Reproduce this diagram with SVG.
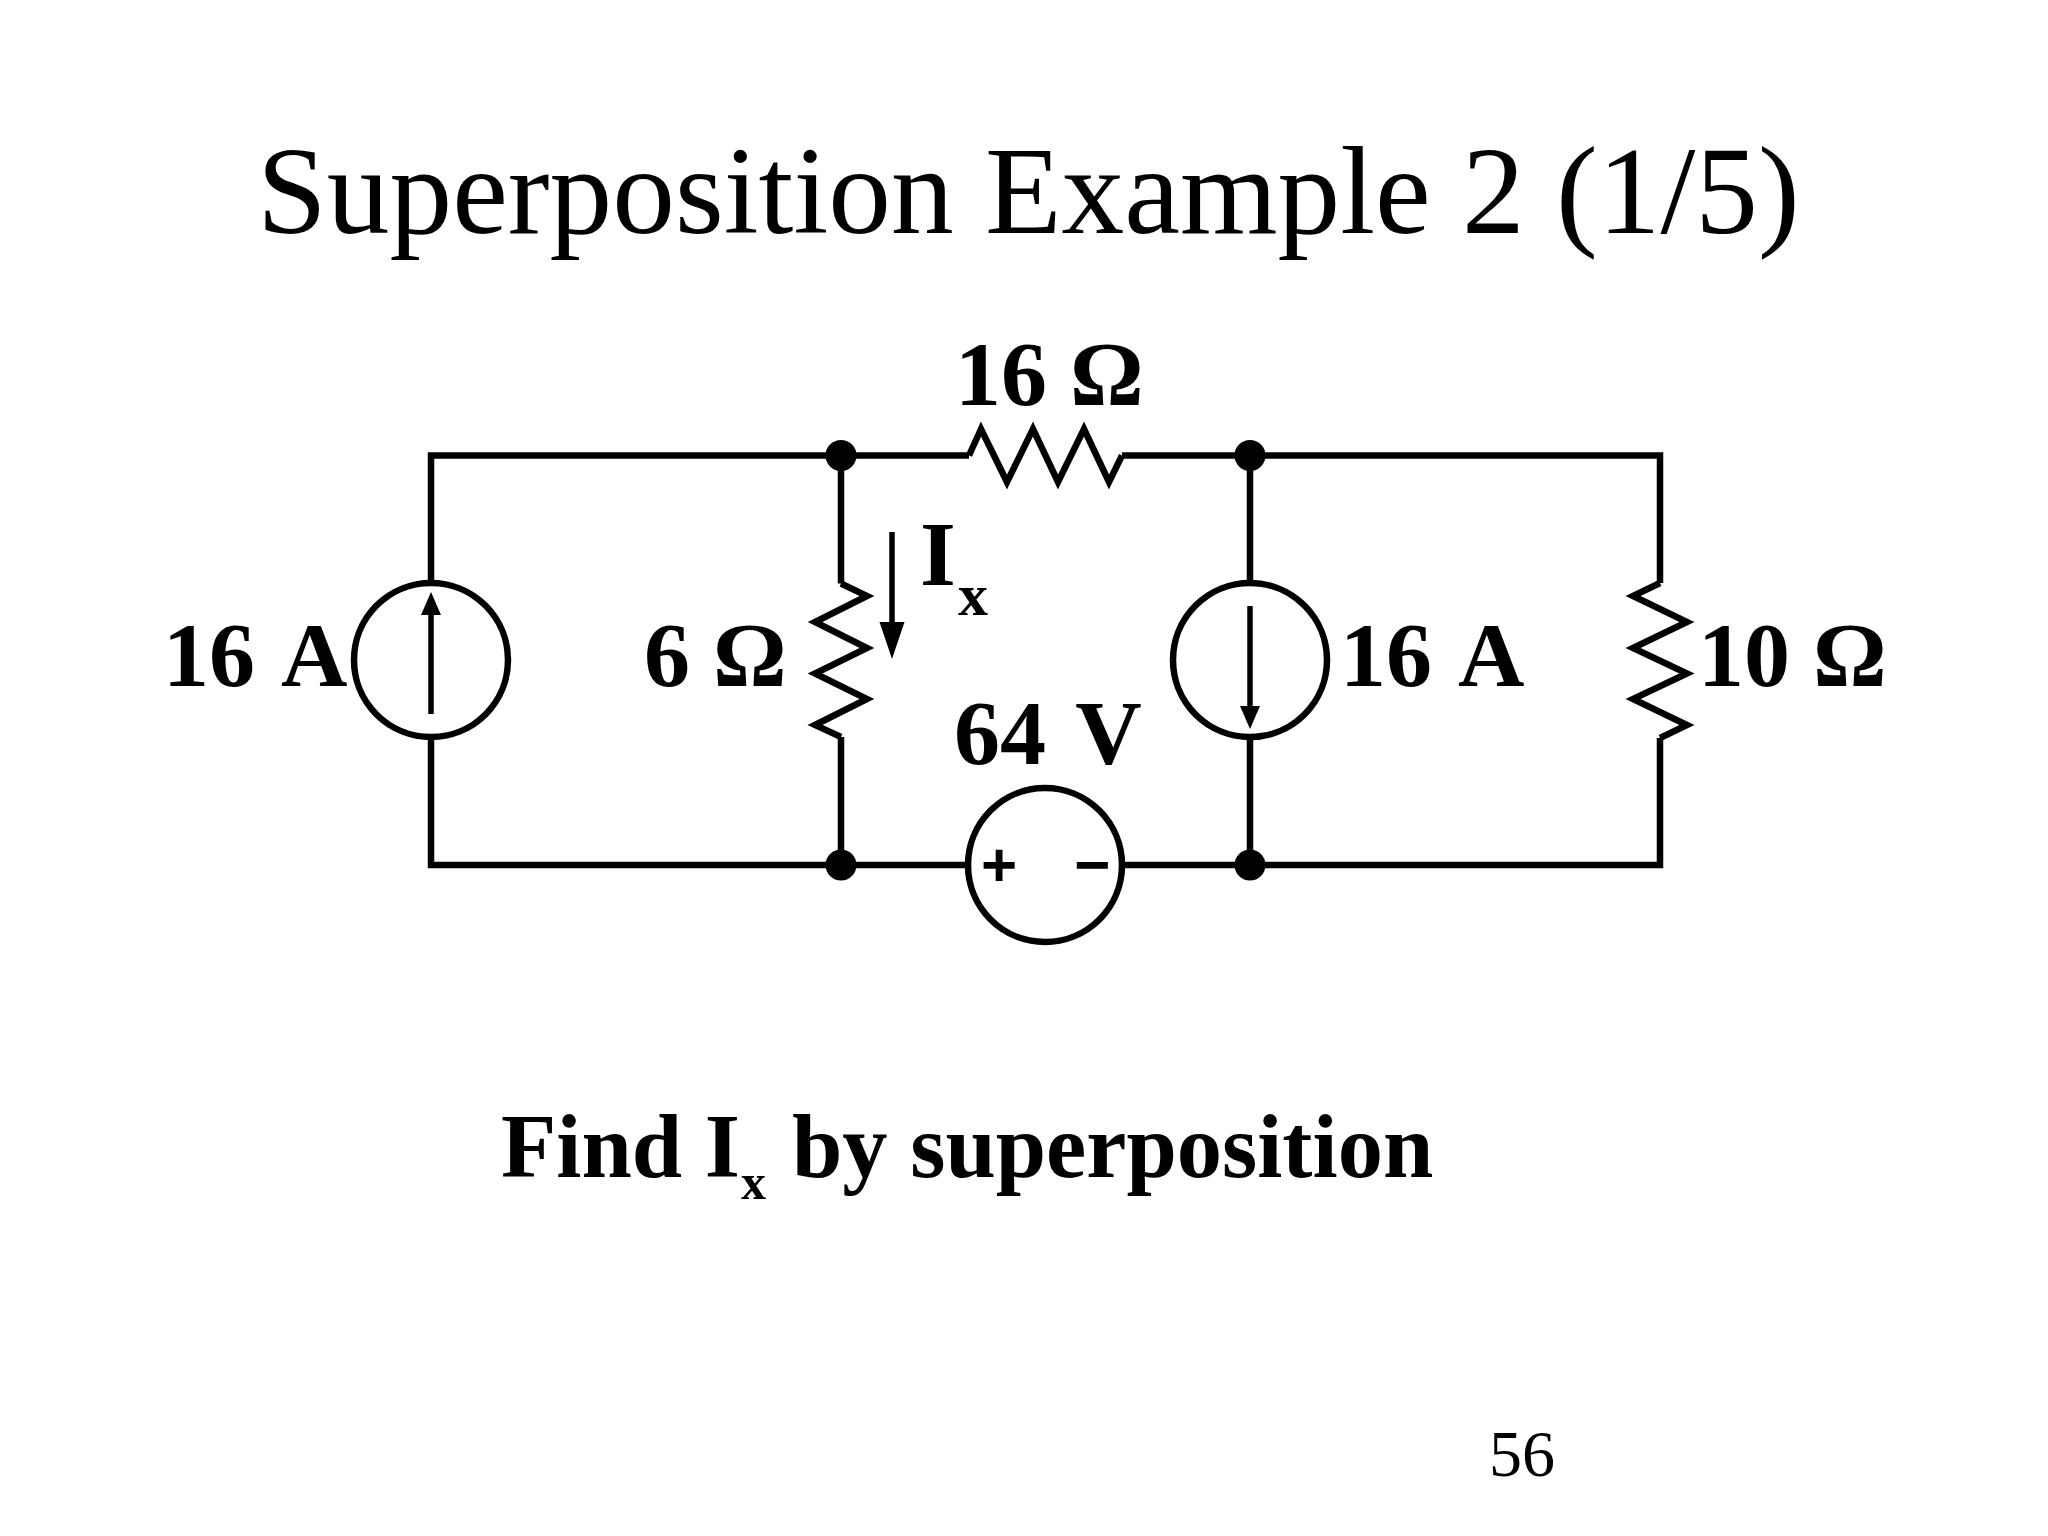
<svg xmlns="http://www.w3.org/2000/svg" width="2048" height="1536" viewBox="0 0 2048 1536">
<style>
text{font-family:"Liberation Serif","Times New Roman",serif;fill:#000}
.t{font-size:125.4px}
.l{font-size:92px;font-weight:bold}
.ws{word-spacing:8px}
.s{font-size:60px;font-weight:bold}
.s2{font-size:50px;font-weight:bold}
.f{font-size:90.500px;font-weight:bold}
.n{font-size:66px}
.sym{font-family:"Liberation Sans",Arial,sans-serif;font-size:62px;font-weight:bold}
.w{fill:none;stroke:#000;stroke-width:6.500;stroke-linejoin:miter}
.c{fill:#fff;stroke:#000;stroke-width:6.500}
.a{fill:none;stroke:#000;stroke-width:5.500}
.h{fill:#000;stroke:none}
.d{fill:#000}
</style>
<rect width="2048" height="1536" fill="#fff"/>
<text id="title" class="t" x="257" y="233">Superposition Example 2 (1/5)</text>
<g id="connectors">
<path class="w" d="M431 582V455.500H841M841 455.500H969M1122 455.500H1660V583M1660 738V865H431V738M841 455.500V583.500M841 737V865M1250 455.500V582M1250 738V865"/>
</g>
<g id="r16"><path class="w" d="M969 455.500L981 429L1007 482L1033 429L1058 482L1084 429L1109 482L1122 455.500"/></g>
<g id="r6"><path class="w" d="M841 583.500L867 596L815 622L867 648L815 673.500L867 699L815 725L841 737"/></g>
<g id="r10"><path class="w" d="M1660 583L1687 596L1633 622" style="display:none"/><path class="w" d="M1660 583L1633 596L1687 622L1633 648L1687 673.500L1633 699L1687 725L1660 738"/></g>
<g id="isrc-left"><circle class="c" cx="431" cy="660" r="77"/><path class="a" d="M431 714V610"/><path class="h" d="M431 592L441 615H421Z"/></g>
<g id="isrc-right"><circle class="c" cx="1250" cy="660" r="77"/><path class="a" d="M1250 606V710"/><path class="h" d="M1250 729L1240 706H1260Z"/></g>
<g id="vsrc"><circle class="c" cx="1045" cy="865" r="77"/><text class="sym" x="999" y="886" text-anchor="middle">+</text><text class="sym" x="1092" y="886" text-anchor="middle">−</text></g>
<g id="node-tl"><circle class="d" cx="841" cy="455.500" r="15.500"/></g>
<g id="node-tr"><circle class="d" cx="1250" cy="455.500" r="15.500"/></g>
<g id="node-bl"><circle class="d" cx="841" cy="865" r="15.500"/></g>
<g id="node-br"><circle class="d" cx="1250" cy="865" r="15.500"/></g>
<g id="ix-arrow"><path class="a" d="M892 532V630"/><path class="h" d="M892 659L879.500 622H904.500Z"/></g>
<text class="l" x="955" y="405">16 Ω</text>
<text class="l ws" x="163" y="686">16 A</text>
<text class="l" x="644" y="686">6 Ω</text>
<text class="l ws" x="954" y="764">64 V</text>
<text class="l ws" x="1340" y="686">16 A</text>
<text class="l" x="1698" y="686">10 Ω</text>
<text class="l" x="920" y="585">I</text>
<text class="s" x="958" y="615">x</text>
<text class="f" x="501" y="1177">Find I</text>
<text class="s2" x="741" y="1199">x</text>
<text class="f" x="792" y="1177">by superposition</text>
<text class="n" x="1489" y="1476">56</text>
</svg>
